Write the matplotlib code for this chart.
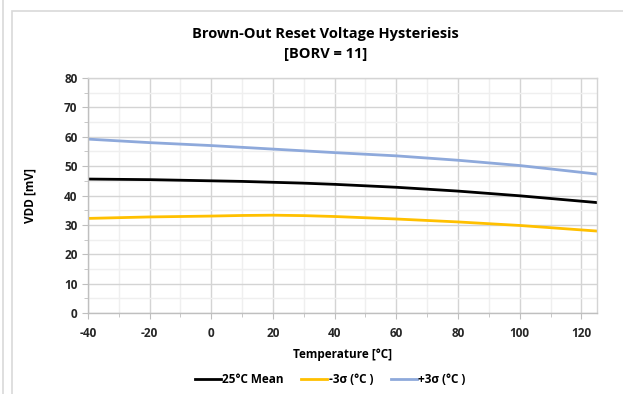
import numpy as np
import matplotlib
matplotlib.use('Agg')
import matplotlib.pyplot as plt
from matplotlib.ticker import MultipleLocator
from matplotlib.patches import Rectangle

plt.rcParams['font.family'] = ['Open Sans', 'DejaVu Sans']
plt.rcParams['axes.unicode_minus'] = False

# Dados
temperatura = [-40, -20, 0, 10, 20, 30, 40, 60, 80, 100, 125]
media_25c = [45.6, 45.4, 45.0, 44.8, 44.5, 44.2, 43.8, 42.8, 41.5, 39.9, 37.6]
menos_3s = [32.2, 32.7, 33.0, 33.2, 33.3, 33.15, 32.85, 32.0, 31.0, 29.8, 27.9]
mais_3s = [59.2, 58.0, 57.0, 56.4, 55.8, 55.2, 54.6, 53.5, 52.0, 50.2, 47.3]

fig = plt.figure(figsize=(6.23, 3.94), dpi=100)
ax = fig.add_axes([0.141, 0.2056, 0.817, 0.5964])

# Borda do grafico (estilo Excel)
fig.patches.append(Rectangle((12 / 623, -0.1), 1.2, (394 - 11) / 394 + 0.1,
                             transform=fig.transFigure, fill=False,
                             edgecolor='#d9d9d9', linewidth=1.2))
fig.add_artist(plt.Line2D([3 / 623, 3 / 623], [0, 1], transform=fig.transFigure,
                          color='#d9d9d9', linewidth=1.2))

ax.plot(temperatura, media_25c, color='black', linewidth=2, label='25°C Mean')
ax.plot(temperatura, menos_3s, color='#FFC000', linewidth=2, label='-3σ (°C )')
ax.plot(temperatura, mais_3s, color='#8EA9DB', linewidth=2, label='+3σ (°C )')

ax.set_xlim(-40, 125)
ax.set_ylim(0, 80)
ax.xaxis.set_major_locator(MultipleLocator(20))
ax.xaxis.set_minor_locator(MultipleLocator(10))
ax.yaxis.set_major_locator(MultipleLocator(10))
ax.yaxis.set_minor_locator(MultipleLocator(5))

ax.grid(True, which='major', color='#d4d4d4', linewidth=1)
ax.grid(True, which='minor', color='#efefef', linewidth=1)
ax.set_axisbelow(True)

for s in ax.spines.values():
    s.set_color('#d4d4d4')
    s.set_linewidth(1)
ax.spines['left'].set_color('#bfbfbf')
ax.spines['bottom'].set_color('#bfbfbf')

ax.tick_params(which='both', direction='out', color='#bfbfbf', labelsize=8.5,
               labelcolor='#262626')
ax.tick_params(which='major', length=4)
ax.tick_params(which='minor', length=3)
ax.tick_params(axis='x', pad=6)
for lbl in ax.get_xticklabels() + ax.get_yticklabels():
    lbl.set_fontweight('bold')

ax.set_xlabel('Temperature [°C]', fontsize=8.5, fontweight='bold', labelpad=6)
ax.set_ylabel('VDD [mV]', fontsize=8.5, fontweight='bold', labelpad=20)

fig.text(0.522, 0.913, 'Brown-Out Reset Voltage Hysteriesis', ha='center', va='center',
         fontsize=10.5, fontweight='bold')
fig.text(0.522, 0.863, '[BORV = 11]', ha='center', va='center',
         fontsize=10.5, fontweight='bold')

fig.legend(loc='center', bbox_to_anchor=(0.53, 0.037), ncol=3, frameon=False,
           handlelength=2.2, handletextpad=0.1, columnspacing=1.5,
           prop={'weight': 'bold', 'size': 8.5})

fig.savefig('out.png', dpi=100)
